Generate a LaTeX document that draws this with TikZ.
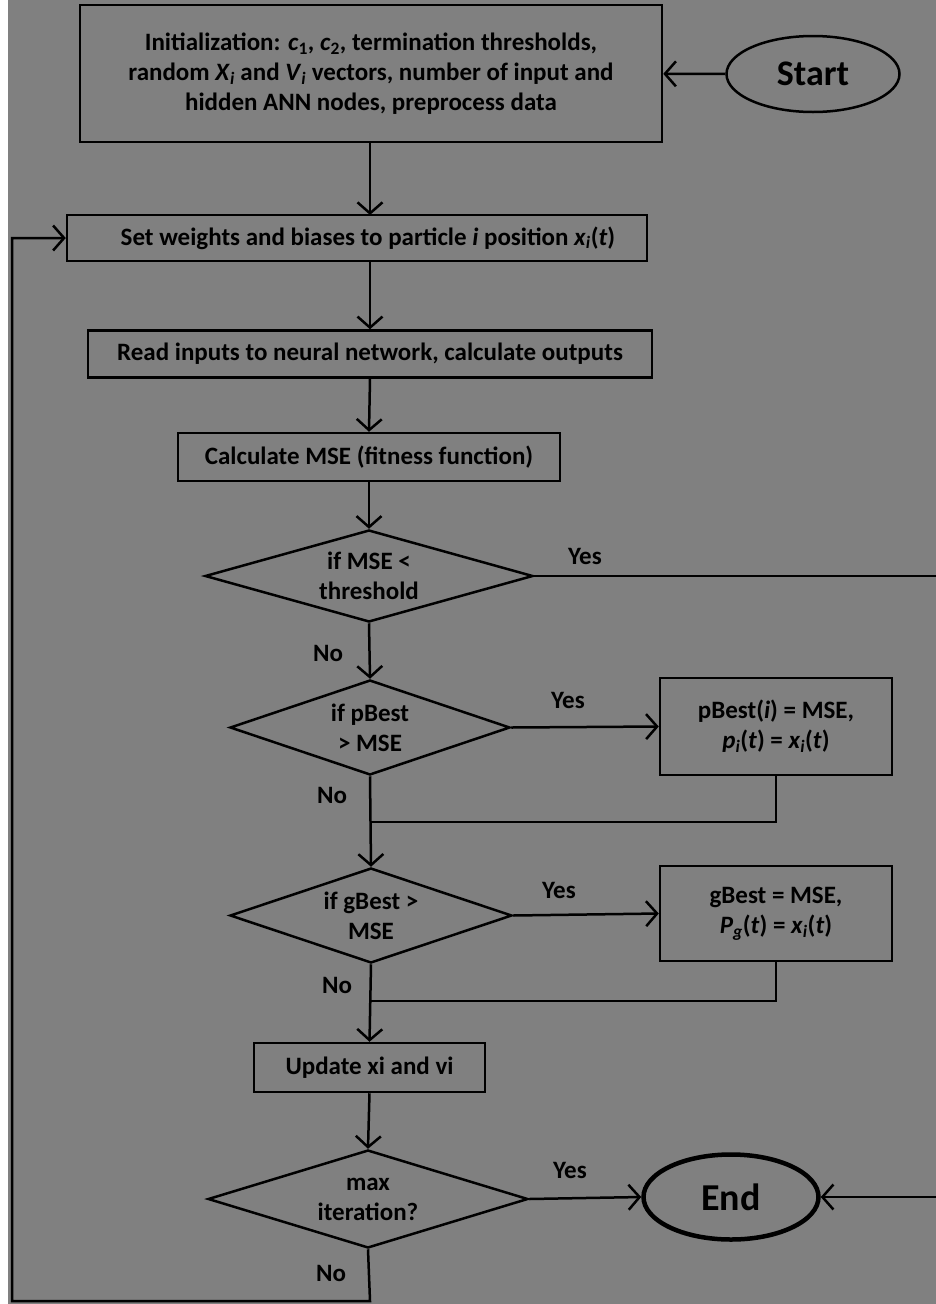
\documentclass[tikz,border=0pt]{standalone}
\usepackage{fontspec}
\setmainfont{Carlito}
\usetikzlibrary{shapes.geometric,arrows.meta}
\definecolor{bggray}{RGB}{128,128,128}
\newcommand{\mv}[1]{\textit{#1}}
\begin{document}
\begin{tikzpicture}[x=1pt,y=-1pt,
  font=\fontsize{25}{30}\selectfont\bfseries,
  line width=2.5pt,
  arr/.style={-{Straight Barb[length=11pt,width=25pt,line width=2.5pt]}},
  box/.style={draw, rectangle, inner sep=0pt, align=center},
  dia/.style={draw, diamond, inner sep=0pt},
  dtext/.style={inner sep=0pt, align=center},
  term/.style={draw, ellipse, inner sep=0pt},
  lbl/.style={inner sep=0pt}]
\useasboundingbox (0,0) rectangle (936,1304);
\fill[white] (0,0) rectangle (936,1304);
\fill[bggray] (8,0) rectangle (936,1304);

\node[box, minimum width=582, minimum height=137] (init) at (371,73.5)
  {Initialization: \mv{c}\textsubscript{1}, \mv{c}\textsubscript{2}, termination thresholds,\\
   random \mv{X}\textsubscript{\mv{i}} and \mv{V}\textsubscript{\mv{i}} vectors, number of input and\\
   hidden ANN nodes, preprocess data};
\node[term, minimum width=173, minimum height=76, font=\fontsize{36}{40}\selectfont\bfseries] (start) at (813,74) {Start};
\node[box, minimum width=580, minimum height=46] (set) at (357,238)
  {\hspace*{22pt}Set weights and biases to particle \mv{i} position \mv{x}\textsubscript{\mv{i}}(\mv{t})};
\node[box, minimum width=564, minimum height=47] (read) at (370,354)
  {Read inputs to neural network, calculate outputs};
\node[box, minimum width=382, minimum height=48] (mse) at (369,457)
  {Calculate MSE (fitness function)};
\node[dia, minimum width=328, minimum height=92] (d1) at (369,576) {};
\node[dtext] (d1t) at (d1) {if MSE <\\ threshold};
\node[dia, minimum width=280, minimum height=95] (d2) at (370,727.5) {};
\node[dtext] (d2t) at (d2) {if pBest\\ > MSE};
\node[box, minimum width=232, minimum height=97] (pb) at (776,726.5)
  {pBest(\mv{i}) = MSE,\\ \mv{p}\textsubscript{\mv{i}}(\mv{t}) = \mv{x}\textsubscript{\mv{i}}(\mv{t})};
\node[dia, minimum width=282, minimum height=95] (d3) at (371,915.5) {};
\node[dtext] (d3t) at (d3) {if gBest >\\ MSE};
\node[box, minimum width=232, minimum height=95] (gb) at (776,913.5)
  {gBest = MSE,\\ \mv{P}\textsubscript{\mv{g}}(\mv{t}) = \mv{x}\textsubscript{\mv{i}}(\mv{t})};
\node[box, minimum width=231, minimum height=49] (upd) at (369.5,1067.5)
  {Update xi and vi};
\node[dia, minimum width=320, minimum height=98] (d4) at (368,1199) {};
\node[dtext] (d4t) at (d4) {max\\ iteration?};
\node[term, line width=4.5pt, minimum width=175, minimum height=85, font=\fontsize{38}{42}\selectfont\bfseries] (end) at (731,1197) {End};

\coordinate (rtop) at (937,576);
\coordinate (rbot) at (937,1197);
\coordinate (loopA) at (370,1301);
\coordinate (loopB) at (12,1301);
\coordinate (loopC) at (12,238);
\coordinate (j1) at (370,822);
\coordinate (j2) at (370,1001);
\coordinate (setin) at (370,215);
\coordinate (setout) at (370,261);

\draw[arr] (start) -- (init);
\draw[arr] (init.south -| setin) -- (setin);
\draw[arr] (setout) -- (read.north);
\draw[arr] (read.south) -- (mse.north);
\draw[arr] (mse.south) -- (d1.north);
\draw (d1.east) -- (rtop) -- (rbot);
\draw[arr] (rbot) -- (end.east);
\draw[arr] (d1.south) -- (d2.north);
\draw[arr] (d2.east) -- (pb.west);
\draw[arr] (d2.south) -- (d3.north);
\draw (pb.south) |- (j1);
\draw[arr] (d3.east) -- (gb.west);
\draw[arr] (d3.south) -- (upd.north);
\draw (gb.south) |- (j2);
\draw[arr] (upd.south) -- (d4.north);
\draw[arr] (d4.east) -- (end.west);
\draw[arr] (d4.south) -- (loopA) -- (loopB) -- (loopC) -- (set.west);

\node[lbl] (y1) at (585,556) {Yes};
\node[lbl] (n1) at (328,653) {No};
\node[lbl] (y2) at (568,700) {Yes};
\node[lbl] (n2) at (332,795) {No};
\node[lbl] (y3) at (559,890) {Yes};
\node[lbl] (n3) at (337,985) {No};
\node[lbl] (y4) at (570,1170) {Yes};
\node[lbl] (n4) at (331,1273) {No};
\end{tikzpicture}
\end{document}
